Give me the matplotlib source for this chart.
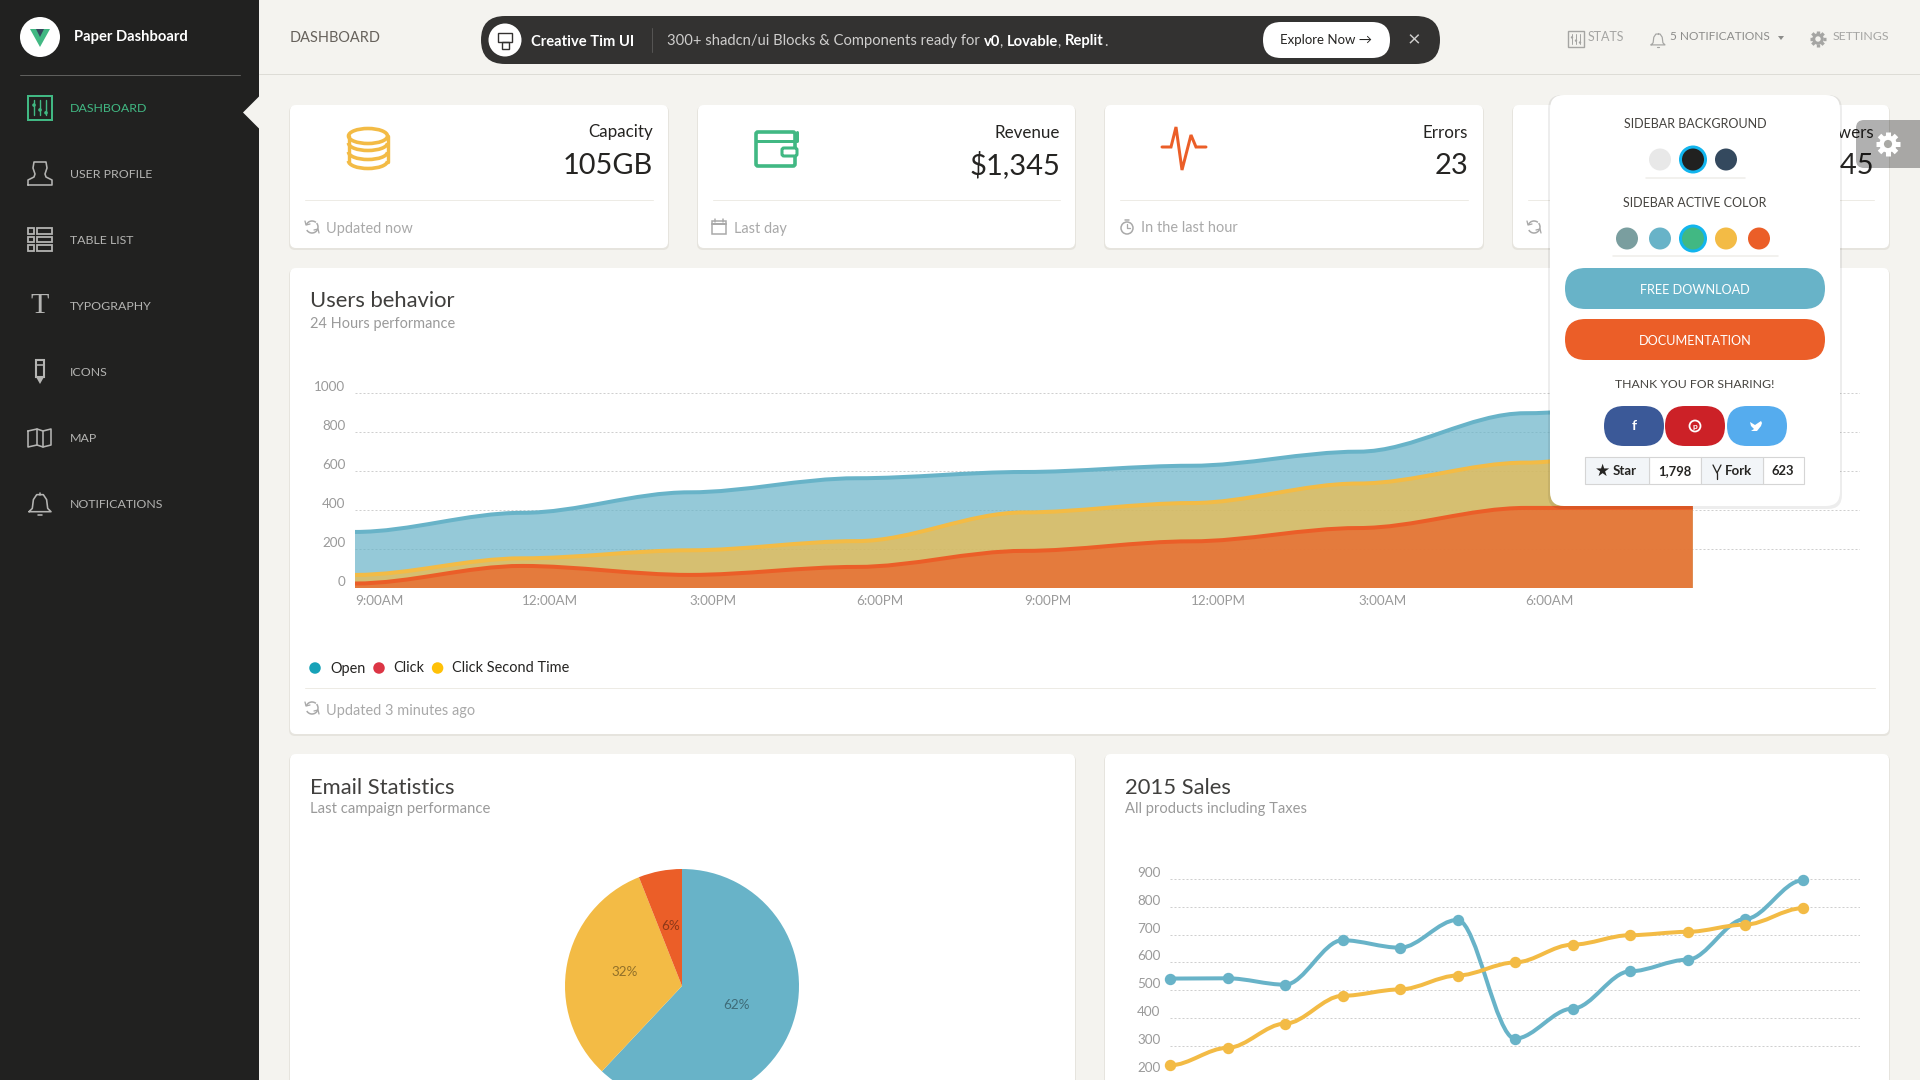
import numpy as np
import matplotlib
matplotlib.use('Agg')
import matplotlib.pyplot as plt
from matplotlib.patches import FancyBboxPatch, Circle, Ellipse, Arc, Polygon, Rectangle, PathPatch
from matplotlib.path import Path

plt.rcParams['font.family'] = ['Lato', 'DejaVu Sans']

# chart data
area_labels = ['9:00AM', '12:00AM', '3:00PM', '6:00PM', '9:00PM', '12:00PM', '3:00AM', '6:00AM']
area_open = [287, 385, 490, 562, 594, 626, 698, 895, 952]
area_click = [67, 152, 193, 240, 387, 435, 535, 642, 744]
area_second = [23, 113, 67, 108, 190, 239, 307, 410, 410]
area_ticks = [0, 200, 400, 600, 800, 1000]

sales_blue = [542, 543, 520, 680, 653, 753, 326, 434, 568, 610, 756, 895]
sales_yellow = [230, 293, 380, 480, 503, 553, 600, 664, 698, 710, 736, 795]
sales_ticks = [200, 300, 400, 500, 600, 700, 800, 900]

pie_values = [62, 32, 6]

# sidebar + cards
menu_items = ['DASHBOARD', 'USER PROFILE', 'TABLE LIST', 'TYPOGRAPHY', 'ICONS', 'MAP', 'NOTIFICATIONS']
card_titles = ['Capacity', 'Revenue', 'Errors', 'Followers']
card_values = ['105GB', '$1,345', '23', '+45']
card_footers = ['Updated now', 'Last day', 'In the last hour', 'Updated now']

BLUE = '#68B3C8'
YELLOW = '#F3BB45'
ORANGE = '#EB5E28'
GREEN = '#41B883'
BG = '#F4F3EF'
DARK = '#212120'
TXT = '#252422'
MUTED = '#A9A9A9'
GRID = '#CFCFCF'
TITLE_WEIGHT = 'normal'

W, H = 1920, 1080
fig = plt.figure(figsize=(19.2, 10.8), dpi=100, facecolor=BG)


def pixel_axes(z):
    ax = fig.add_axes([0, 0, 1, 1], zorder=z)
    ax.set_xlim(0, W)
    ax.set_ylim(H, 0)
    ax.axis('off')
    return ax


def chart_axes(x0, y0, x1, y1):
    # y0 is the top edge, everything in screen pixels
    ax = fig.add_axes([x0 / W, 1 - y1 / H, (x1 - x0) / W, (y1 - y0) / H], zorder=1)
    ax.patch.set_alpha(0)
    for s in ax.spines.values():
        s.set_visible(False)
    return ax


def txt(ax, x, y, s, px, color=TXT, ha='left', weight='normal', va='center', **kw):
    # +1 because the font sits a bit higher than the one on the page
    return ax.text(x, y + 1, s, fontsize=px * 0.72, color=color, ha=ha, va=va, weight=weight, **kw)


def ln(ax, xs, ys, color, w=2, **kw):
    kw.setdefault('solid_capstyle', 'round')
    ax.plot(xs, ys, color=color, lw=w * 0.72, **kw)


def box(ax, x0, y0, x1, y1, r, color, ec='none', lw=0, z=1, alpha=None):
    p = FancyBboxPatch((x0 + r, y0 + r), x1 - x0 - 2 * r, y1 - y0 - 2 * r,
                       boxstyle=f'round,pad={r},rounding_size={r}',
                       fc=color, ec=ec, lw=lw, zorder=z, alpha=alpha)
    ax.add_patch(p)
    return p


def card(ax, x0, y0, x1, y1):
    box(ax, x0 - 1, y0 + 1, x1 + 1, y1 + 2, 6, '#E6E4DE', z=0.5)
    box(ax, x0, y0, x1, y1, 6, 'white')


def refresh_icon(ax, cx, cy, color):
    ax.add_patch(Arc((cx, cy), 12, 12, theta1=-40, theta2=150, color=color, lw=1.1))
    ax.add_patch(Arc((cx, cy), 12, 12, theta1=200, theta2=310, color=color, lw=1.1))
    ln(ax, [cx - 7, cx - 6, cx - 2], [cy - 6, cy - 2, cy - 3], color, 1.3)
    ln(ax, [cx + 7, cx + 6, cx + 2], [cy + 6, cy + 2, cy + 3], color, 1.3)


def calendar_icon(ax, cx, cy, color):
    ax.add_patch(Rectangle((cx - 7, cy - 6), 14, 13, fc='none', ec=color, lw=1.1))
    ln(ax, [cx - 7, cx + 7], [cy - 3, cy - 3], color, 2)
    ln(ax, [cx - 4, cx - 4], [cy - 8, cy - 5], color, 1.5)
    ln(ax, [cx + 4, cx + 4], [cy - 8, cy - 5], color, 1.5)


def clock_icon(ax, cx, cy, color):
    ax.add_patch(Circle((cx, cy + 1), 6, fc='none', ec=color, lw=1.1))
    ln(ax, [cx, cx, cx + 3], [cy - 3, cy + 1, cy + 1], color, 1.3)
    ln(ax, [cx - 2, cx + 2], [cy - 7, cy - 7], color, 1.5)


def gear_icon(ax, cx, cy, r, color, hole, z=3):
    for a in np.arange(0, 360, 45):
        ca, sa = np.cos(np.radians(a)), np.sin(np.radians(a))
        ax.plot([cx + ca * r * 0.6, cx + ca * r], [cy + sa * r * 0.6, cy + sa * r], color=color,
                lw=r * 0.42 * 0.72, solid_capstyle='butt', zorder=z)
    ax.add_patch(Circle((cx, cy), r * 0.72, fc=color, ec='none', zorder=z))
    if hole is not None:
        ax.add_patch(Circle((cx, cy), r * 0.34, fc=hole, ec='none', zorder=z))


def bell_icon(ax, cx, cy, s, color, w=1.6):
    ln(ax, [cx - s, cx - 0.7 * s, cx - 0.6 * s, cx - 0.3 * s, cx + 0.3 * s, cx + 0.6 * s, cx + 0.7 * s, cx + s, cx - s],
       [cy + 0.7 * s, cy + 0.4 * s, cy - 0.4 * s, cy - 0.85 * s, cy - 0.85 * s, cy - 0.4 * s, cy + 0.4 * s, cy + 0.7 * s, cy + 0.7 * s],
       color, w)
    ln(ax, [cx - 0.2 * s, cx + 0.2 * s], [cy + s, cy + s], color, w)
    ln(ax, [cx, cx], [cy - s, cy - 0.85 * s], color, w)


def sliders_icon(ax, cx, cy, w, h, color, lw=2):
    ax.add_patch(Rectangle((cx - w / 2, cy - h / 2), w, h, fc='none', ec=color, lw=lw * 0.72))
    for dx, dy in [(-w * 0.25, -h * 0.1), (0, h * 0.1), (w * 0.25, h * 0.22)]:
        ln(ax, [cx + dx, cx + dx], [cy - h * 0.32, cy + h * 0.32], color, lw * 0.7)
        ax.add_patch(Circle((cx + dx, cy + dy), w * 0.075, fc=color, ec='none'))


def simple_path(xs, ys, baseline=None, div=3):
    # same curve as the chartist "simple" smoothing, flat at every point
    verts = [(xs[0], ys[0])]
    codes = [Path.MOVETO]
    for i in range(1, len(xs)):
        d = (xs[i] - xs[i - 1]) / div
        verts += [(xs[i - 1] + d, ys[i - 1]), (xs[i] - d, ys[i]), (xs[i], ys[i])]
        codes += [Path.CURVE4] * 3
    if baseline is not None:
        verts += [(xs[-1], baseline), (xs[0], baseline), (xs[0], baseline)]
        codes += [Path.LINETO, Path.LINETO, Path.CLOSEPOLY]
    return Path(verts, codes)


def style_axis(ax):
    ax.tick_params(axis='both', length=0, labelsize=13.5 * 0.72, labelcolor='#9A9A9A')
    ax.tick_params(axis='y', pad=7)
    ax.grid(axis='y', color=GRID, lw=0.72, linestyle=(0, (2, 2)), zorder=0)
    ax.set_axisbelow(True)
    plt.setp(ax.get_yticklabels(), va='bottom')


base = pixel_axes(0)
ui = pixel_axes(2)

# ---- sidebar ----
base.add_patch(Rectangle((0, 0), 259, H, fc=DARK, ec='none'))
base.add_patch(Circle((40, 37), 20, fc='white', ec='none'))
base.add_patch(Polygon([(30, 29), (50, 29), (40, 47)], fc=GREEN, ec='none', zorder=3))
base.add_patch(Polygon([(36, 29), (44, 29), (40, 37)], fc='#35495E', ec='none', zorder=3))
txt(base, 74, 36, 'Paper Dashboard', 14.7, 'white', weight='bold')
ln(base, [20, 240], [74.5, 74.5], '#5F5F5D', 1)
base.add_patch(Polygon([(243, 112.5), (259, 96.5), (259, 128.5)], fc=BG, ec='none'))

menu_y = [107, 173, 239, 305, 371, 437, 503]
GREY = '#B4B4B2'
for name, y in zip(menu_items, menu_y):
    txt(base, 70, y, name, 12.4, GREEN if name == 'DASHBOARD' else GREY)

sliders_icon(base, 40, 107.5, 24, 24, GREEN)
# profile
ln(base, [28, 52, 52, 46, 45, 47, 46, 34, 33, 35, 34, 28, 28], [185, 185, 180, 177, 174, 168, 162, 162, 168, 174, 177, 180, 185], GREY, 1.6)
# table list
for k in range(3):
    yy = 228 + k * 8.5
    base.add_patch(Rectangle((28, yy), 6, 5.5, fc='none', ec=GREY, lw=1.3))
    base.add_patch(Rectangle((37, yy), 15, 5.5, fc='none', ec=GREY, lw=1.3))
# typography
txt(base, 40, 305, 'T', 30, GREY, ha='center', family='Liberation Serif')
# icons (pen)
base.add_patch(Rectangle((36, 360), 8, 17, fc='none', ec=GREY, lw=1.5))
base.add_patch(Polygon([(36, 377), (44, 377), (40, 384)], fc=GREY, ec='none'))
ln(base, [36, 44], [365, 365], GREY, 1.6)
# map
ln(base, [28, 37, 43, 51, 51, 43, 37, 28, 28], [431, 429, 431, 429, 445, 447, 445, 447, 431], GREY, 1.6)
ln(base, [37, 37], [429, 445], GREY, 1.6)
ln(base, [43, 43], [431, 447], GREY, 1.6)
bell_icon(base, 40, 504, 11, GREY)

# ---- navbar ----
ln(base, [259, W], [74, 74], '#DDDCD6', 1)
txt(base, 290, 36.5, 'DASHBOARD', 14.5, '#66615B')
box(base, 481, 16, 1440, 64, 24, '#333231')
base.add_patch(Circle((505, 40), 16.5, fc='white', ec='none', zorder=2))
base.add_patch(Rectangle((498, 33), 14, 9, fc='none', ec='#333231', lw=1, zorder=3))
base.add_patch(Rectangle((502, 42), 7, 7, fc='none', ec='#333231', lw=1, zorder=3))
txt(base, 531, 40.5, 'Creative Tim UI', 14.8, 'white', weight='bold')
ln(base, [652, 652], [28, 52], '#555453', 1)
renderer = fig.canvas.get_renderer()
cur_x = 667
for part, col, wt in [('300+ shadcn/ui Blocks & Components ready for ', '#CFCECD', 'normal'),
                      ('v0', 'white', 'bold'), (', ', '#CFCECD', 'normal'),
                      ('Lovable', 'white', 'bold'), (', ', '#CFCECD', 'normal'),
                      ('Replit', 'white', 'bold'), ('.', '#CFCECD', 'normal')]:
    t = txt(base, cur_x, 40.5, part.replace(' ', '\u00a0'), 14.8, col, weight=wt)
    cur_x += t.get_window_extent(renderer).width
box(base, 1263, 22, 1390, 58, 18, 'white', z=2)
txt(base, 1326, 39, 'Explore Now \u2192', 13.2, TXT, ha='center').set_zorder(3)
txt(base, 1414, 39, '\u00d7', 22, '#CFCECD', ha='center')

NAV = '#A5A5A3'
sliders_icon(base, 1576, 39, 16, 16, NAV, 1.4)
txt(base, 1588, 36, 'STATS', 12.5, NAV)
bell_icon(base, 1658, 40, 7, NAV, 1.2)
txt(base, 1669.5, 36, '5 NOTIFICATIONS', 11.9, '#8C8C8A')
base.add_patch(Polygon([(1778, 36), (1784, 36), (1781, 40)], fc='#8C8C8A', ec='none'))
gear_icon(base, 1818, 39, 8, NAV, BG, z=2)
txt(base, 1833, 36, 'SETTINGS', 12.4, NAV)

# ---- stat cards ----
card_x = [(290, 668), (698, 1075), (1105, 1483), (1513, 1889)]
for (x0, x1), title, value, foot in zip(card_x, card_titles, card_values, card_footers):
    card(base, x0, 105, x1, 248)
    txt(base, x1 - 15, 131.5, title, 17, TXT, ha='right', weight=TITLE_WEIGHT)
    txt(base, x1 - 15, 164.5, value, 29, TXT, ha='right', weight=TITLE_WEIGHT)
    ln(base, [x0 + 15, x1 - 15], [200, 200], '#EDEBE5', 1)
    txt(base, x0 + 36, 227.5, foot, 14.5, MUTED)

refresh_icon(base, 312, 227, MUTED)
calendar_icon(base, 719, 227, MUTED)
clock_icon(base, 1127, 227, MUTED)
refresh_icon(base, 1534, 227, MUTED)

# database icon
for yy in (143, 152, 161):
    base.add_patch(Arc((368, yy), 39, 15, theta1=0, theta2=180, color=YELLOW, lw=2.6, zorder=2))
base.add_patch(Ellipse((368, 136), 39, 15, fc='none', ec=YELLOW, lw=2.6, zorder=2))
ln(base, [348.5, 348.5], [136, 162], YELLOW, 3.4)
ln(base, [387.5, 387.5], [136, 162], YELLOW, 3.4)
# wallet icon
box(base, 756, 132, 795, 166, 2, 'white', ec=GREEN, lw=2.6, z=2)
ln(base, [756, 797, 797], [141, 141, 132], GREEN, 3)
box(base, 782, 148, 797, 156, 2, 'white', ec=GREEN, lw=2.2, z=3)
# pulse icon
ln(base, [1162, 1171, 1176, 1182, 1191, 1196, 1206], [147, 147, 127, 170, 135, 147, 147], ORANGE, 3, solid_joinstyle='miter')

# ---- users behavior card ----
card(base, 290, 268, 1889, 734)
txt(base, 310, 300, 'Users behavior', 22, '#403F3D', weight=TITLE_WEIGHT)
txt(base, 310, 323, '24 Hours performance', 14.5, '#9A9A9A')
for x, col in [(315, '#17A2B8'), (379, '#DC3545'), (437.6, '#FFC107')]:
    base.add_patch(Ellipse((x, 668), 11.5, 11.5, fc=col, ec='none', zorder=2))
txt(base, 330, 667.5, 'Open', 14.5, TXT)
txt(base, 393, 667.5, 'Click', 14.5, TXT)
txt(base, 452, 667.5, 'Click Second Time', 14.5, TXT)
ln(base, [305, 1875], [688, 688], '#EDEBE5', 1)
refresh_icon(base, 312, 708, MUTED)
txt(base, 326, 709.5, 'Updated 3 minutes ago', 14.5, MUTED)

ax1 = chart_axes(355, 392.7, 1860, 588)
ax1.set_xlim(0, 9)
ax1.set_ylim(0, 1000)
ax1.set_yticks(area_ticks)
ax1.set_xticks(range(len(area_labels)))
ax1.set_xticklabels(area_labels, ha='left')
style_axis(ax1)
ax1.tick_params(axis='x', pad=5)
xs1 = list(range(len(area_open)))
for k, (vals, col) in enumerate([(area_open, BLUE), (area_click, YELLOW), (area_second, ORANGE)]):
    ax1.add_patch(PathPatch(simple_path(xs1, vals, baseline=0), fc=col, ec='none', alpha=0.7, zorder=2 + k))
    ax1.add_patch(PathPatch(simple_path(xs1, vals), fc='none', ec=col, lw=4 * 0.72, capstyle='butt', zorder=2.5 + k))

# ---- email + sales cards ----
card(base, 290, 754, 1075, H + 20)
card(base, 1105, 754, 1889, H + 20)
txt(base, 310, 787, 'Email Statistics', 22, '#403F3D', weight=TITLE_WEIGHT)
txt(base, 310, 808, 'Last campaign performance', 14.9, '#9A9A9A')
txt(base, 1125, 787, '2015 Sales', 22, '#403F3D', weight=TITLE_WEIGHT)
txt(base, 1125, 808, 'All products including Taxes', 14.7, '#9A9A9A')

ax2 = chart_axes(682 - 117, 986 - 117, 682 + 117, 986 + 117)
wedges, _, pcts = ax2.pie(pie_values, colors=[BLUE, YELLOW, ORANGE], startangle=90, counterclock=False, radius=1,
                          autopct=lambda p: f'{p:.0f}%', pctdistance=0.5,
                          textprops={'fontsize': 13.5 * 0.72, 'color': (0, 0, 0, 0.4)})
for p in pcts:
    p.set_y(p.get_position()[1] + 0.025)
ax2.set_xlim(-1, 1)
ax2.set_ylim(-1, 1)

ax3 = chart_axes(1170, 879, 1860, 1073.7)
ax3.set_xlim(0, 12)
ax3.set_ylim(200, 900)
ax3.set_yticks(sales_ticks)
ax3.set_xticks([])
style_axis(ax3)
xs3 = list(range(len(sales_blue)))
for k, (vals, col) in enumerate([(sales_blue, BLUE), (sales_yellow, YELLOW)]):
    ax3.add_patch(PathPatch(simple_path(xs3, vals), fc='none', ec=col, lw=4 * 0.72, capstyle='round', zorder=3 + k))
    ax3.plot(xs3, vals, ls='none', marker='o', ms=10 * 0.72, mfc=col, mec=col, clip_on=False, zorder=3 + k)

# ---- fixed settings panel ----
box(ui, 1548, 95, 1842, 509, 14, '#000000', z=0.5, alpha=0.07)
box(ui, 1550, 95, 1840, 506, 14, 'white')
# the tab is see-through, the card text shows under it
box(ui, 1856, 120, 1940, 168, 8, '#000000', alpha=0.31)
gear_icon(ui, 1888, 144, 12, 'white', '#A9A9A5')

PANEL = '#45433F'
txt(ui, 1695, 123, 'SIDEBAR BACKGROUND', 12.5, PANEL, ha='center')
txt(ui, 1695, 202, 'SIDEBAR ACTIVE COLOR', 12.5, PANEL, ha='center')


def swatch(x, y, col, active=False):
    if active:
        ui.add_patch(Circle((x, y), 14, fc='#12B5EE', ec='none', zorder=2))
    ui.add_patch(Circle((x, y), 11, fc=col, ec='none', zorder=3))


for x, col, act in [(1660, '#E8E8E8', False), (1693, DARK, True), (1726, '#34495E', False)]:
    swatch(x, 159.5, col, act)
for x, col, act in [(1627, '#7A9E9F', False), (1660, BLUE, False), (1693, GREEN, True), (1726, YELLOW, False), (1759, ORANGE, False)]:
    swatch(x, 238.5, col, act)
ln(ui, [1646, 1745], [178, 178], '#EFEEEA', 1.6)
ln(ui, [1613, 1778], [256, 256], '#EFEEEA', 1.6)

box(ui, 1565, 268, 1825, 309, 20.5, BLUE, z=2)
txt(ui, 1695, 289, 'FREE DOWNLOAD', 12.6, 'white', ha='center').set_zorder(3)
box(ui, 1565, 319, 1825, 360, 20.5, ORANGE, z=2)
txt(ui, 1695, 340, 'DOCUMENTATION', 12.6, 'white', ha='center').set_zorder(3)
txt(ui, 1695, 383, 'THANK YOU FOR SHARING!', 12.3, PANEL, ha='center')

for x0, x1, col in [(1604, 1664, '#3B5998'), (1665, 1725, '#CC2127'), (1727, 1787, '#55ACEE')]:
    box(ui, x0, 406, x1, 446, 20, col, z=2)
txt(ui, 1634, 425, 'f', 14, 'white', ha='center', weight='bold').set_zorder(3)
ui.add_patch(Circle((1695, 426), 5.5, fc='none', ec='white', lw=1.3, zorder=3))
txt(ui, 1695, 425, 'p', 8.5, 'white', ha='center', weight='bold').set_zorder(3)
ui.add_patch(Polygon([(1750, 422), (1755, 425), (1761, 421), (1762, 423), (1761, 426), (1757, 431), (1751, 431), (1754, 429), (1751, 426)],
                     fc='white', ec='none', zorder=3))

for x0, x1, fill in [(1649, 1701, 'white'), (1763, 1804, 'white'), (1585, 1649, '#F2F5F8'), (1701, 1763, '#F2F5F8')]:
    ui.add_patch(Rectangle((x0, 457), x1 - x0, 27, fc=fill, ec='#D5D5D5', lw=0.8, zorder=2))
txt(ui, 1603, 470, '\u2605', 17, TXT, ha='center').set_zorder(3)
txt(ui, 1613, 470, 'Star', 13.2, TXT, weight='bold').set_zorder(3)
txt(ui, 1675, 470, '1,798', 13, TXT, ha='center', weight='bold').set_zorder(3)
txt(ui, 1725, 470, 'Fork', 13.2, TXT, weight='bold').set_zorder(3)
ln(ui, [1713, 1717, 1721], [465, 473, 465], TXT, 1.3, zorder=3)
ln(ui, [1717, 1717], [473, 479], TXT, 1.3, zorder=3)
txt(ui, 1783, 470, '623', 13, TXT, ha='center', weight='bold').set_zorder(3)

fig.savefig('out.png', dpi=100, facecolor=BG)
